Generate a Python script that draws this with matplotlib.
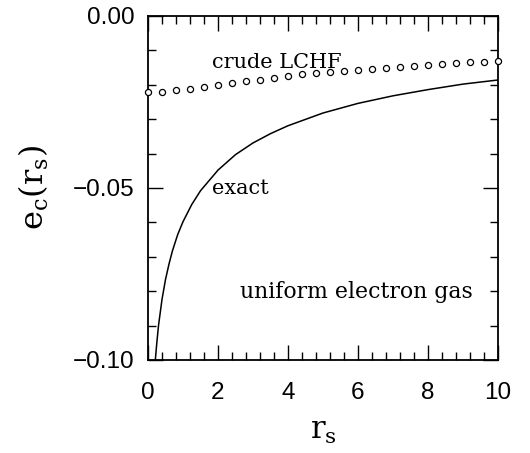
import matplotlib
matplotlib.use("Agg")
import matplotlib.pyplot as plt
from matplotlib.ticker import MultipleLocator, FuncFormatter

# crude LCHF points
lchf_rs = [0.0, 0.4, 0.8, 1.2, 1.6, 2.0, 2.4, 2.8, 3.2, 3.6, 4.0, 4.4, 4.8,
           5.2, 5.6, 6.0, 6.4, 6.8, 7.2, 7.6, 8.0, 8.4, 8.8, 9.2, 9.6, 10.0]
lchf_ec = [-0.0222, -0.0221, -0.0216, -0.0212, -0.0206, -0.0200, -0.0196, -0.0190,
           -0.0185, -0.0180, -0.0175, -0.0170, -0.0166, -0.0162, -0.0160, -0.0157,
           -0.0155, -0.0151, -0.0148, -0.0145, -0.0142, -0.0140, -0.0137, -0.0135,
           -0.0133, -0.0131]

# exact uniform electron gas curve
exact_rs = [0.2, 0.25, 0.3, 0.4, 0.5, 0.6, 0.7, 0.85, 1.0, 1.25, 1.5, 2.0,
            2.5, 3.0, 3.5, 4.0, 5.0, 6.0, 7.0, 8.0, 9.0, 10.0]
exact_ec = [-0.1011, -0.0952, -0.0900, -0.0824, -0.0766, -0.0721, -0.0682,
            -0.0635, -0.0598, -0.0548, -0.0508, -0.0448, -0.0403, -0.0369,
            -0.0342, -0.0319, -0.0282, -0.0254, -0.0232, -0.0214, -0.0198, -0.0186]

xticks = [0, 2, 4, 6, 8, 10]
yticks = [-0.10, -0.05, 0.00]

plt.rcParams['mathtext.fontset'] = 'dejavuserif'

fig = plt.figure(figsize=(5.30, 4.53), dpi=100)
ax = fig.add_axes([148/530, (453-360)/453, 350/530, 344/453])

ax.plot(exact_rs, exact_ec, color='black', lw=1.1, clip_on=True)
ax.plot(lchf_rs, lchf_ec, linestyle='none', marker='o', markersize=4.4,
        markerfacecolor='white', markeredgecolor='black', markeredgewidth=0.9,
        clip_on=False, zorder=5)

ax.set_xlim(0, 10)
ax.set_ylim(-0.10, 0.0)
ax.set_xticks(xticks)
ax.set_yticks(yticks)
ax.xaxis.set_minor_locator(MultipleLocator(0.4))
ax.yaxis.set_minor_locator(MultipleLocator(0.01))
ax.yaxis.set_major_formatter(FuncFormatter(lambda v, p: ('%.2f' % v).replace('-', '\u2212')))

ax.tick_params(which='both', direction='in', top=True, right=True, width=1.0)
ax.tick_params(which='major', length=11, labelsize=17.5)
ax.tick_params(axis='x', which='major', pad=16)
ax.tick_params(axis='y', which='major', pad=9.5)
ax.tick_params(which='minor', length=5.5)
for lab in ax.get_xticklabels() + ax.get_yticklabels():
    lab.set_family('Liberation Sans')
for s in ax.spines.values():
    s.set_linewidth(1.3)

ax.set_xlabel(r'$\mathrm{r_s}$', fontsize=22, labelpad=9)
ax.set_ylabel(r'$\mathrm{e_c(r_s)}$', fontsize=23, labelpad=16)

tfont = dict(family='DejaVu Serif', fontsize=15, color='black')
ax.text(1.83, -0.0134, 'crude LCHF', va='center', ha='left', **tfont)
ax.text(1.83, -0.0500, 'exact', va='center', ha='left', **tfont)
ax.text(2.63, -0.0802, 'uniform electron gas', va='center', ha='left',
        family='DejaVu Serif', fontsize=15.8, color='black')

fig.savefig('out.png', dpi=100)
